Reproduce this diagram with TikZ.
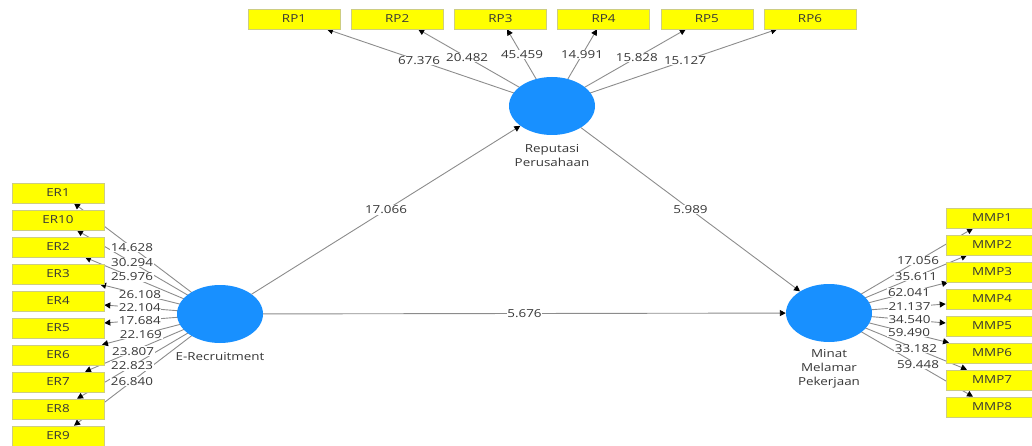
\documentclass[tikz,border=0pt]{standalone}
\usepackage{fontspec}
\setmainfont{Open Sans}[FakeStretch=1.22]
\usetikzlibrary{shapes.geometric,arrows.meta,backgrounds}
\definecolor{lvblue}{RGB}{24,144,255}
\definecolor{indyel}{RGB}{255,255,0}
\definecolor{indborder}{RGB}{205,205,130}
\definecolor{edgegray}{RGB}{140,140,140}
\definecolor{txtgray}{RGB}{55,55,55}
\begin{document}
\begin{tikzpicture}[x=1pt,y=-1pt,
  every node/.style={font=\fontsize{11}{14}\selectfont, text=txtgray},
  latent/.style={ellipse, fill=lvblue, minimum width=86pt, minimum height=58pt, inner sep=0pt},
  indbox/.style={rectangle, fill=indyel, draw=indborder, line width=0.6pt, minimum width=92pt, minimum height=20pt, inner sep=0pt},
  load/.style={draw=edgegray, line width=0.9pt, -{Triangle[length=6pt,width=6pt,color=black]}},
  lbl/.style={fill=white, inner sep=0.6pt},
  latlabel/.style={align=center}]
\useasboundingbox (0,0) rectangle (1032,446);
% latent variables
\node[latent] (er) at (220,314) {};
\node[latent] (rp) at (552,106) {};
\node[latent] (mm) at (829,313) {};
\node[latlabel] (erl) at (220,357) {E-Recruitment};
\node[latlabel] (rpl) at (552,156) {Reputasi\\Perusahaan};
\node[latlabel] (mml) at (829,369) {Minat\\Melamar\\Pekerjaan};
% indicators
\foreach \n/\lab [count=\i from 0] in {er1/ER1,er10/ER10,er2/ER2,er3/ER3,er4/ER4,er5/ER5,er6/ER6,er7/ER7,er8/ER8,er9/ER9}
  \node[indbox] (\n) at (58,193+27*\i) {\lab};
\foreach \i in {1,...,6}
  \node[indbox] (rp\i) at (294+103.2*\i-103.2,19) {RP\i};
\foreach \i in {1,...,8}
  \node[indbox] (mmp\i) at (992,191+27*\i) {MMP\i};
% arrow end points
\coordinate (ter1) at ([xshift=16pt]er1.south);
\coordinate (ter10) at ([xshift=19pt]er10.south);
\coordinate (ter2) at ([xshift=27pt]er2.south);
\coordinate (ter3) at ([xshift=42pt]er3.south);
\coordinate (ter4) at ([yshift=-4pt]er4.east);
\coordinate (ter5) at ([yshift=5pt]er5.east);
\coordinate (ter6) at ([xshift=44pt]er6.north);
\coordinate (ter7) at ([xshift=27pt]er7.north);
\coordinate (ter8) at ([xshift=19pt]er8.north);
\coordinate (ter9) at ([xshift=16pt]er9.north);
\coordinate (trp1) at ([xshift=33pt]rp1.south);
\coordinate (trp2) at ([xshift=21pt]rp2.south);
\coordinate (trp3) at ([xshift=6.6pt]rp3.south);
\coordinate (trp4) at ([xshift=-6.6pt]rp4.south);
\coordinate (trp5) at ([xshift=-21pt]rp5.south);
\coordinate (trp6) at ([xshift=-33pt]rp6.south);
\coordinate (tmm1) at ([xshift=-19pt]mmp1.south);
\coordinate (tmm2) at ([xshift=-25pt]mmp2.south);
\coordinate (tmm3) at ([xshift=-44pt]mmp3.south);
\coordinate (tmm4) at ([yshift=-5pt]mmp4.west);
\coordinate (tmm5) at ([yshift=3pt]mmp5.west);
\coordinate (tmm6) at ([xshift=-43pt]mmp6.north);
\coordinate (tmm7) at ([xshift=-25pt]mmp7.north);
\coordinate (tmm8) at ([xshift=-19pt]mmp8.north);
% loading lines
\begin{pgfonlayer}{background}
\foreach \t in {ter1,ter10,ter2,ter3,ter4,ter5,ter6,ter7,ter8,ter9}
  \draw[load] (er.center) -- (\t);
\foreach \t in {trp1,trp2,trp3,trp4,trp5,trp6}
  \draw[load] (rp.center) -- (\t);
\foreach \t in {tmm1,tmm2,tmm3,tmm4,tmm5,tmm6,tmm7,tmm8}
  \draw[load] (mm.center) -- (\t);
\end{pgfonlayer}
% loading labels
\foreach \t/\p/\v in {ter1/0.603/14.628,ter10/0.615/30.294,ter2/0.652/25.976,ter3/0.667/26.108,ter4/0.693/22.104,ter5/0.693/17.684,ter6/0.67/22.169,ter7/0.644/23.807,ter8/0.615/22.823,ter9/0.603/26.840}
  \path (er.center) -- (\t) node[lbl,pos=\p] {\v};
\foreach \t/\p/\v in {trp1/0.591/67.376,trp2/0.634/20.482,trp3/0.667/45.459,trp4/0.667/14.991,trp5/0.634/15.828,trp6/0.591/15.127}
  \path (rp.center) -- (\t) node[lbl,pos=\p] {\v};
\foreach \t/\p/\v in {tmm1/0.618/17.056,tmm2/0.63/35.611,tmm3/0.672/62.041,tmm4/0.69/21.137,tmm5/0.69/34.540,tmm6/0.667/59.490,tmm7/0.63/33.182,tmm8/0.618/59.448}
  \path (mm.center) -- (\t) node[lbl,pos=\p] {\v};
% structural paths
\draw[load] (er) -- node[lbl] {17.066} (rp);
\draw[load] (rp) -- node[lbl] {5.989} (mm);
\draw[load] (er) -- node[lbl] {5.676} (mm);
\end{tikzpicture}
\end{document}
